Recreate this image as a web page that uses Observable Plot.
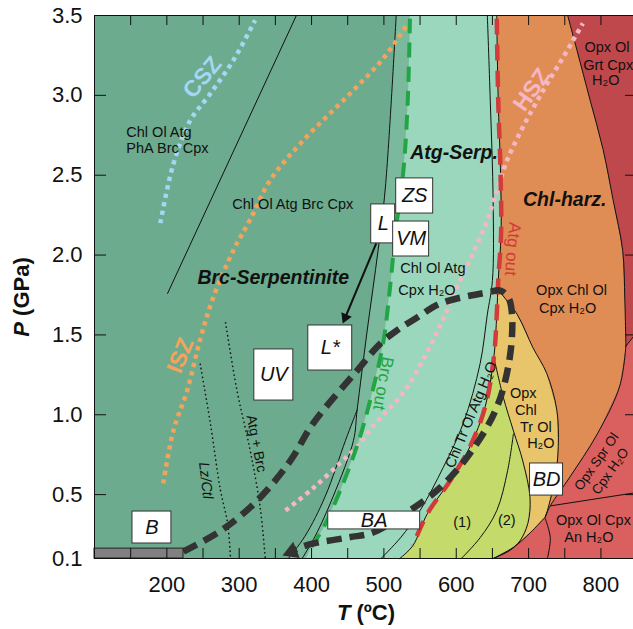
<!DOCTYPE html>
<html><head><meta charset="utf-8">
<script src="https://cdn.jsdelivr.net/npm/d3@7"></script>
<script src="https://cdn.jsdelivr.net/npm/@observablehq/plot@0.6"></script>
<style>
body{margin:0;background:#fff;}
#chart svg{display:block}
</style></head><body><div id="chart"></div>
<script>
// ---------- axis ticks ----------
const xTickLabels = [200, 300, 400, 500, 600, 700, 800];
const yTickLabels = [0.1, 0.5, 1.0, 1.5, 2.0, 2.5, 3.0, 3.5];
const xTickMarks = [150, 200, 250, 300, 350, 400, 450, 500, 550, 600, 650, 700, 750, 800];
const yTickMarks = [0.5, 1.0, 1.5, 2.0, 2.5, 3.0];

// ---------- boundaries [T (°C), P (GPa)] ----------
const lineA = [[517,3.5],[502,2.42],[492,2.03],[477,1.53],[463,1.03],[458,0.84],[430,0.49],[405,0.24],[387,0.1]];
const lineD = [[463,1.03],[447,0.84],[419,0.49],[391,0.24],[368,0.1]];
const brcOut = [[536,3.48],[533,2.97],[527,2.53],[516,2.14],[509,1.82],[499,1.45],[481,1.09],[464,0.82],[440,0.53],[416,0.29],[398,0.16]];
const atgOut = [[656,3.48],[658,2.97],[661,2.55],[662,2.14],[658,1.84],[656,1.63],[652,1.36],[640,1.05],[619,0.80],[592,0.59],[560,0.38],[540,0.18]];
const lineB = [[643,3.5],[647,2.97],[651,2.34],[650,1.84],[643,1.63],[633,1.32],[610,0.95],[582,0.67],[550,0.40],[523,0.23],[496,0.1]];
const ygRight = [[651,0.1],[674,0.15],[688,0.21],[699,0.32],[702,0.48],[692,0.71],[679,0.90],[665,1.11],[652,1.36]];
const line12 = [[679,0.88],[671,0.65],[656,0.40],[633,0.23],[607,0.1]];
const yellowRight = [[658,1.78],[684,1.63],[706,1.42],[725,1.26],[739,1.03],[741,0.80],[737,0.61],[726,0.40],[723,0.36]];
const redYellow = [[723,0.36],[702,0.26],[679,0.17],[651,0.1]];
const orangeRed = [[723,0.36],[730,0.43],[757,0.61],[795,0.88],[826,1.18],[834.5,1.43]];
const darkRedEdge = [[754,3.5],[767,3.28],[785,2.97],[803,2.66],[817,2.34],[830,2.03],[833,1.72],[834.5,1.43]];
const darkRedBase = [[834.5,1.43],[845,1.49]];
const sprAnLine = [[731,0.43],[845,0.51]];
const anCurve = [[723,0.35],[730,0.23],[726,0.1]];
const sideLine = [[379,3.5],[201,1.76]];
const lzCtl = [[246,1.32],[260,0.95],[274,0.53],[284,0.32],[288,0.1]];
const atgBrc = [[281,1.58],[297,1.15],[315,0.78],[329,0.42],[336,0.1]];

// subduction-zone geotherms
const csz = [[191,2.20],[209,2.57],[232,2.84],[260,3.01],[292,3.22],[322,3.47]];
const isz = [[195,0.57],[209,0.90],[228,1.15],[246,1.47],[263,1.72],[292,2.03],[315,2.22],[343,2.47],[389,2.72],[453,3.01],[499,3.23],[533,3.45]];
const hsz = [[364,0.40],[402,0.54],[440,0.70],[463,0.80],[485,0.93],[518,1.09],[536,1.20],[564,1.43],[582,1.60],[601,1.80],[619,1.97],[643,2.22],[656,2.40],[670,2.59],[692,2.80],[720,3.03],[748,3.24],[775,3.45]];

// P-T path
const ptPath = [[223,0.144],[275,0.275],[325,0.463],[371,0.714],[402,0.945],[463,1.277],[495,1.446],[518,1.528],[546,1.609],[578,1.697],[643,1.766],[661,1.778],[672,1.734],[677,1.634],[674,1.359],[656,1.046],[619,0.758],[578,0.545],[536,0.401],[485,0.263],[451,0.232],[397,0.188],[378,0.156]];
const ptPathEnd = [{t:372.7, p:0.142}];
const lArrow = [{t1:489.4, p1:2.073, t2:446.6, p2:1.609}];

const slabBar = [{t1:100, t2:223, p1:0.1, p2:0.162}];

const boxes = [
  {label:"B",  t1:152.5, t2:206.3, p1:0.194, p2:0.394},
  {label:"UV", t1:320.9, t2:374.8, p1:1.089, p2:1.409},
  {label:"L*", t1:395.5, t2:456.2, p1:1.277, p2:1.559},
  {label:"L",  t1:482.5, t2:515.6, p1:2.073, p2:2.317},
  {label:"ZS", t1:517.0, t2:568.1, p1:2.260, p2:2.480},
  {label:"VM", t1:512.8, t2:562.5, p1:1.991, p2:2.210},
  {label:"BA", t1:423.1, t2:550.1, p1:0.282, p2:0.394},
  {label:"BD", t1:702.0, t2:747.6, p1:0.494, p2:0.695}
];

// ---------- labels ----------
const fieldLabelsLeft = [
  {text:"Chl Ol Atg", t:144, p:2.768},
  {text:"PhA Brc Cpx", t:144, p:2.667},
  {text:"Chl Ol Atg Brc Cpx", t:290.5, p:2.317},
  {text:"Chl Ol Atg", t:522.5, p:1.916},
  {text:"Cpx H₂O", t:520, p:1.778}
];
const fieldLabelsMid = [
  {text:"Opx Chl Ol", t:759.4, p:1.778},
  {text:"Cpx H₂O", t:753.9, p:1.664},
  {text:"Opx Ol", t:808.3, p:3.302},
  {text:"Grt Cpx", t:810.0, p:3.187},
  {text:"H₂O", t:806.6, p:3.093},
  {text:"Opx", t:692.7, p:1.131},
  {text:"Chl", t:696.2, p:1.027},
  {text:"Tr Ol", t:710.0, p:0.922},
  {text:"H₂O", t:716.9, p:0.818},
  {text:"(1)", t:608.1, p:0.325},
  {text:"(2)", t:669.8, p:0.338},
  {text:"Opx Ol Cpx", t:789.6, p:0.338},
  {text:"An H₂O", t:783.4, p:0.232}
];
const fieldNames = [
  {text:"Brc-Serpentinite", t:242.2, p:1.860},
  {text:"Atg-Serp.", t:536.3, p:2.642},
  {text:"Chl-harz.", t:692.3, p:2.348}
];
const chlTrLabel = [{text:"Chl Tr Ol Atg H₂O", t:620.5, p:1.0}];
const sprLabels = [
  {text:"Opx Spr Ol", t:794.0, p:0.706},
  {text:"Cpx H₂O", t:813.0, p:0.646}
];
const brcOutLabel = [{text:"Brc out", t:499.0, p:1.196}];
const atgOutLabel = [{text:"Atg out", t:677.8, p:2.038}];
const lzLabel = [{text:"Lz/Ctl", t:253.9, p:0.588}];
const atgBrcLabel = [{text:"Atg + Brc", t:323.7, p:0.820}];
const cszLabel = [{text:"CSZ", t:249.1, p:3.112}];
const iszLabel = [{text:"ISZ", t:218.7, p:1.371}];
const hszLabel = [{text:"HSZ", t:704.3, p:3.035}];

// ---------- field polygons ----------
const stripPoly = lineA.slice(0,5).concat(lineD.slice(1), [[392,0.1]], brcOut.slice().reverse(), [[536,3.5]]);
const mintPoly = [[536,3.5]].concat(brcOut, [[392,0.1],[522,0.1]], atgOut.slice().reverse(), [[656,3.5]]);
const ygPoly = atgOut.slice(6).concat([[522,0.1]], ygRight);
const yellowPoly = yellowRight.concat(redYellow.slice(1), ygRight.slice(1), [[656,1.63]]);
const orangePoly = [[656,3.5]].concat(atgOut.slice(0,5), yellowRight, orangeRed.slice(1), darkRedEdge.slice().reverse().slice(1));
const darkRedPoly = darkRedEdge.concat([[845,1.49],[845,3.5]]);
const redPoly = [[834.5,1.43],[845,1.49],[845,0.1]].concat(redYellow.slice().reverse(), orangeRed.slice(1));

const C = {
  dark:"#6cab8e", strip:"#7bb99c", mint:"#9bd7bc", yg:"#c4da6a", yellow:"#e8c56a",
  orange:"#e08d55", darkRed:"#be484b", red:"#d9605e"
};
const FONT = "'Liberation Sans', Arial, Helvetica, sans-serif";
const X = d => d[0], Y = d => d[1];
const poly = (pts, fill) => Plot.line(pts, {x:X, y:Y, fill, stroke:"none", curve:"linear"});
const thin = (pts, curve="catmull-rom") => Plot.line(pts, {x:X, y:Y, stroke:"#111", strokeWidth:1, curve});
const txt = (data, o) => Plot.text(data, Object.assign({x:"t", y:"p", text:"text", fill:"#111", fontFamily:FONT, fontSize:14.5}, o));

const svg = Plot.plot({
  width: 633, height: 629,
  marginLeft: 94, marginRight: 0, marginTop: 15, marginBottom: 71,
  x: {domain:[100, 845], label:null},
  y: {domain:[0.1, 3.5], label:null},
  style: {fontFamily: FONT, fontSize: "22px", color: "#111", background: "white", overflow: "visible"},
  marks: [
    Plot.frame({fill: C.dark, stroke: "none"}),
    poly(stripPoly, C.strip),
    poly(mintPoly, C.mint),
    poly(ygPoly, C.yg),
    poly(yellowPoly, C.yellow),
    poly(orangePoly, C.orange),
    poly(darkRedPoly, C.darkRed),
    poly(redPoly, C.red),

    thin(sideLine, "linear"),
    thin(lineA), thin(lineD), thin(lineB),
    thin([[656,3.5]].concat(atgOut, [[522,0.1]])),
    thin(ygRight), thin(line12), thin(yellowRight), thin(redYellow),
    thin(orangeRed), thin(darkRedEdge), thin(darkRedBase, "linear"),
    thin(sprAnLine, "linear"), thin(anCurve),

    Plot.line(lzCtl, {x:X, y:Y, stroke:"#111", strokeWidth:1.4, strokeDasharray:"1.6,2.8", strokeLinecap:"butt", curve:"catmull-rom"}),
    Plot.line(atgBrc, {x:X, y:Y, stroke:"#111", strokeWidth:1.4, strokeDasharray:"1.6,2.8", strokeLinecap:"butt", curve:"catmull-rom"}),

    Plot.line(csz, {x:X, y:Y, stroke:"#a6d6f2", strokeWidth:4.5, strokeDasharray:"4.3,4.3", strokeLinecap:"butt", curve:"catmull-rom"}),
    Plot.line(isz, {x:X, y:Y, stroke:"#f4a35c", strokeWidth:4.5, strokeDasharray:"4.3,4.3", strokeLinecap:"butt", curve:"catmull-rom"}),
    Plot.line(hsz, {x:X, y:Y, stroke:"#f6b7c5", strokeWidth:4.5, strokeDasharray:"4.3,4.3", strokeLinecap:"butt", curve:"catmull-rom"}),

    Plot.line(brcOut, {x:X, y:Y, stroke:"#22a544", strokeWidth:4, strokeDasharray:"15,9", strokeLinecap:"butt", curve:"catmull-rom"}),
    Plot.line(atgOut, {x:X, y:Y, stroke:"#d33a3a", strokeWidth:4.5, strokeDasharray:"16,10", strokeLinecap:"butt", curve:"catmull-rom"}),

    Plot.line(ptPath, {x:X, y:Y, stroke:"#333", strokeWidth:6.5, strokeDasharray:"15,8", strokeLinecap:"butt", curve:"catmull-rom"}),
    Plot.dot(ptPathEnd, {x:"t", y:"p", symbol:"triangle", r:6.5, fill:"#333", stroke:"none", rotate:-112}),

    Plot.rect(slabBar, {x1:"t1", x2:"t2", y1:"p1", y2:"p2", fill:"#808080", stroke:"#222", strokeWidth:1}),

    Plot.rect(boxes, {x1:"t1", x2:"t2", y1:"p1", y2:"p2", fill:"white", stroke:"#333", strokeWidth:1}),
    Plot.text(boxes, {x:d=>(d.t1+d.t2)/2, y:d=>(d.p1+d.p2)/2, text:"label", fontFamily:FONT, fontSize:20, fontStyle:"italic", fill:"#111"}),

    Plot.link(lArrow, {x1:"t1", y1:"p1", x2:"t2", y2:"p2", stroke:"#111", strokeWidth:2}),
    Plot.dot(lArrow, {x:"t2", y:"p2", symbol:"triangle", r:4.2, fill:"#111", stroke:"none", rotate:203}),

    txt(fieldLabelsLeft, {textAnchor:"start"}),
    txt(fieldLabelsMid, {textAnchor:"middle"}),
    txt(fieldNames, {textAnchor:"start", fontSize:19.5, fontWeight:"bold", fontStyle:"italic"}),
    txt(chlTrLabel, {rotate:-67.5}),
    txt(sprLabels, {rotate:-55, fontSize:13.5}),
    txt(brcOutLabel, {rotate:100, fill:"#22a544", fontSize:17}),
    txt(atgOutLabel, {rotate:95, fill:"#d33a3a", fontSize:17}),
    txt(lzLabel, {rotate:83, fontSize:14.5, fontStyle:"italic"}),
    txt(atgBrcLabel, {rotate:79, fontSize:14}),
    txt(cszLabel, {rotate:-50, fill:"#a6d6f2", fontSize:23, fontWeight:"bold"}),
    txt(iszLabel, {rotate:-68, fill:"#f4a35c", fontSize:23, fontWeight:"bold"}),
    txt(hszLabel, {rotate:-55, fill:"#f6b7c5", fontSize:23, fontWeight:"bold"}),

    Plot.ruleX(xTickMarks, {x:d=>d, insetTop:533, stroke:"#111"}),
    Plot.ruleX(xTickMarks, {x:d=>d, insetBottom:533, stroke:"#111"}),
    Plot.ruleY(yTickMarks, {y:d=>d, insetRight:527, stroke:"#111"}),
    Plot.ruleY(yTickMarks, {y:d=>d, insetLeft:531, stroke:"#111"}),
    Plot.ruleX([100], {stroke:"#111"}),
    Plot.ruleY([0.1, 3.5], {stroke:"#111"}),

    Plot.axisX({ticks:xTickLabels, anchor:"bottom", tickSize:0, tickPadding:18, fontSize:22, label:null}),
    Plot.axisY({ticks:yTickLabels, anchor:"left", tickSize:0, tickPadding:12, fontSize:22, label:null, tickFormat:d=>d.toFixed(1)})
  ]
});

const s = d3.select(svg);
const yt = s.append("text")
  .attr("transform", "translate(21,297) rotate(-90)")
  .attr("text-anchor", "middle").attr("dominant-baseline", "central")
  .attr("font-family", FONT).attr("font-size", 22).attr("font-weight", "bold").attr("fill", "#111");
yt.append("tspan").attr("font-style", "italic").text("P");
yt.append("tspan").text(" (GPa)");
const xt = s.append("text")
  .attr("x", 366).attr("y", 612)
  .attr("text-anchor", "middle").attr("dominant-baseline", "central")
  .attr("font-family", FONT).attr("font-size", 22).attr("font-weight", "bold").attr("fill", "#111");
xt.append("tspan").attr("font-style", "italic").text("T");
xt.append("tspan").text(" (ºC)");

document.getElementById("chart").appendChild(svg);
</script></body></html>
